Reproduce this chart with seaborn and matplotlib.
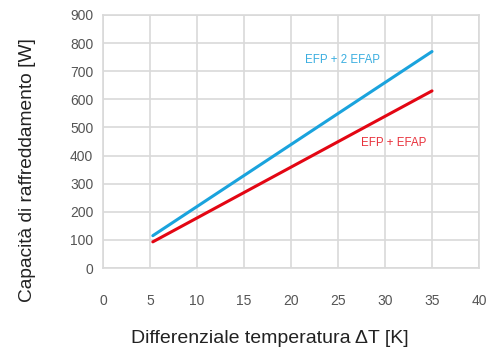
import matplotlib
matplotlib.use("Agg")
import matplotlib.pyplot as plt
import seaborn as sns
import pandas as pd

# data
delta_t = [5.3, 35]
two_efap = [115, 770]
one_efap = [93, 630]

df = pd.DataFrame({
    "dT": delta_t * 2,
    "W": two_efap + one_efap,
    "serie": ["EFP + 2 EFAP"] * 2 + ["EFP + EFAP"] * 2,
})

sns.set_style("white")
plt.rcParams["font.family"] = ["Liberation Sans", "DejaVu Sans"]

blue = "#1aa3dd"
red = "#e30613"
grid_c = "#d9d9d9"

fig = plt.figure(figsize=(4.87, 3.56), dpi=100)
ax = fig.add_axes([103 / 487, 1 - 268 / 356, 376 / 487, 253 / 356])

sns.lineplot(data=df, x="dT", y="W", hue="serie",
             palette={"EFP + 2 EFAP": blue, "EFP + EFAP": red},
             linewidth=2.2, legend=False, ax=ax)

ax.set_xlim(0, 40)
ax.set_ylim(0, 900)
ax.set_xticks(range(0, 41, 5))
ax.set_yticks(range(0, 901, 100))
ax.grid(True, color=grid_c, linewidth=1.2)
ax.set_axisbelow(True)
for s in ax.spines.values():
    s.set_color(grid_c)
    s.set_linewidth(1.2)
ax.tick_params(axis="both", length=0, labelsize=10, labelcolor="#555555")
ax.tick_params(axis="x", pad=19)
ax.tick_params(axis="y", pad=7)

ax.text(25.5, 740, "EFP + 2 EFAP", color="#3aaee0", fontsize=8.3, ha="center", va="center")
ax.text(30.9, 445, "EFP + EFAP", color="#e8323c", fontsize=8.3, ha="center", va="center")

ax.set_xlabel("Differenziale temperatura ΔT [K]", fontsize=14, color="#222222", va="center")
ax.set_ylabel("Capacità di raffreddamento [W]", fontsize=13.8, color="#222222", va="center")
ax.xaxis.set_label_coords(0.444, -0.277)
ax.yaxis.set_label_coords(-0.2, 0.387)

fig.savefig("out.png", dpi=100)
